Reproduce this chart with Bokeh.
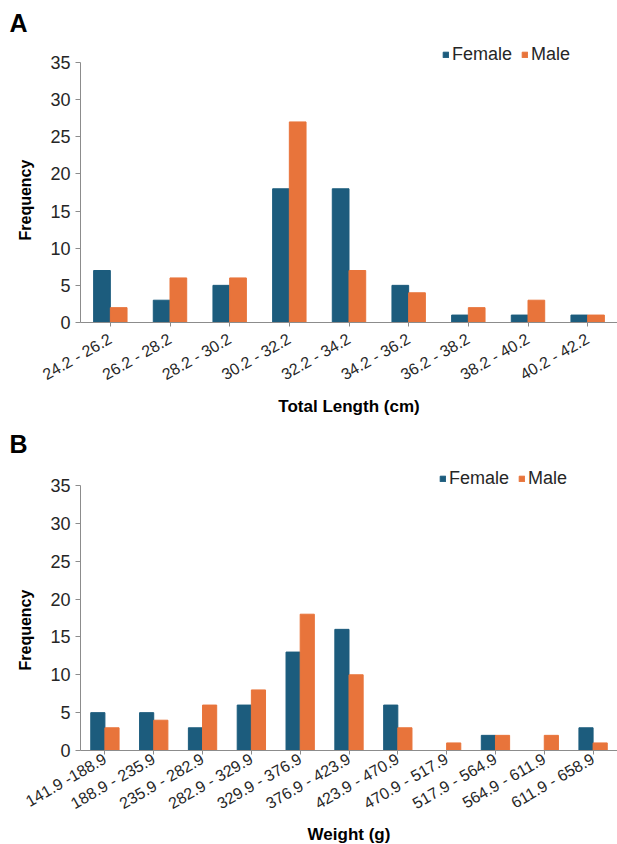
import math
from bokeh.plotting import figure
from bokeh.models import ColumnDataSource, FactorRange, Range1d, Legend, LegendItem, FixedTicker, Title
from bokeh.layouts import column
from bokeh.transform import dodge
from bokeh.embed import file_html
from bokeh.resources import INLINE

# Panel A data: total length classes
length_bins = ["24.2 - 26.2", "26.2 - 28.2", "28.2 - 30.2", "30.2 - 32.2", "32.2 - 34.2",
               "34.2 - 36.2", "36.2 - 38.2", "38.2 - 40.2", "40.2 - 42.2"]
length_female = [7, 3, 5, 18, 18, 5, 1, 1, 1]
length_male = [2, 6, 6, 27, 7, 4, 2, 3, 1]

# Panel B data: weight classes
weight_bins = ["141.9 -188.9", "188.9 - 235.9", "235.9 - 282.9", "282.9 - 329.9", "329.9 - 376.9",
               "376.9 - 423.9", "423.9 - 470.9", "470.9 - 517.9", "517.9 - 564.9", "564.9 - 611.9",
               "611.9 - 658.9"]
weight_female = [5, 5, 3, 6, 13, 16, 6, 0, 2, 0, 3]
weight_male = [3, 4, 6, 8, 18, 10, 3, 1, 2, 2, 1]

y_ticks = [0, 5, 10, 15, 20, 25, 30, 35]
y_max = 35

FEMALE = "#1C5C7D"
MALE = "#E8743B"
FONT = "Liberation Sans"
TXT = "#262626"
AXIS = "#8C8C8C"


def panel(letter, cats, fem, mal, xtitle, height, top, gap35, bottom, bw,
          tick_standoff, xtitle_offset, xtitle_standoff, legend_pos, letter_standoff, ytitle_offset):
    src = ColumnDataSource(dict(cat=cats, f=fem, m=mal))
    frame_h = height - top - bottom
    y_end = y_max * frame_h / (frame_h - gap35)
    p = figure(x_range=FactorRange(*cats, range_padding=0), y_range=Range1d(0, y_end),
               width=617, height=height, output_backend="svg", toolbar_location=None,
               min_border_left=79, min_border_right=0, min_border_top=top, min_border_bottom=bottom)
    p.outline_line_color = None
    p.grid.visible = False
    p.background_fill_color = "white"
    p.border_fill_color = "white"

    rf = p.vbar(x=dodge("cat", -bw / 2, range=p.x_range), top="f", width=bw, source=src,
                fill_color=FEMALE, line_color=FEMALE)
    rm = p.vbar(x=dodge("cat", bw / 2, range=p.x_range), top="m", width=bw, source=src,
                fill_color=MALE, line_color=MALE)

    p.yaxis.ticker = FixedTicker(ticks=y_ticks)
    p.yaxis.bounds = (0, y_max)
    for ax in (p.xaxis[0], p.yaxis[0]):
        ax.axis_line_color = AXIS
        ax.major_tick_line_color = AXIS
        ax.minor_tick_line_color = None
        ax.major_label_text_font = FONT
        ax.major_label_text_color = TXT
    p.yaxis.major_tick_in = 0
    p.yaxis.major_tick_out = 5
    p.yaxis.major_label_text_font_size = "18px"
    p.yaxis.major_label_standoff = 5
    p.xaxis.major_tick_in = 0
    p.xaxis.major_tick_out = 4
    p.xaxis.major_label_text_font_size = "16px"
    p.xaxis.major_label_orientation = math.pi / 6
    p.xaxis.major_label_standoff = tick_standoff

    p.add_layout(Title(text="Frequency", align="left", offset=ytitle_offset, standoff=28,
                       text_font=FONT, text_font_style="bold", text_font_size="16px",
                       text_color="black"), "left")
    p.add_layout(Title(text=xtitle, align="center", offset=xtitle_offset, standoff=xtitle_standoff,
                       text_font=FONT, text_font_style="bold", text_font_size="17px",
                       text_color="black"), "below")
    p.add_layout(Title(text=letter, align="left", offset=-71, standoff=letter_standoff,
                       text_font=FONT, text_font_style="bold", text_font_size="25px",
                       text_color="black"), "above")

    legend = Legend(items=[LegendItem(label="Female", renderers=[rf]),
                           LegendItem(label="Male", renderers=[rm])],
                    orientation="horizontal", location=legend_pos,
                    border_line_color=None, background_fill_alpha=0,
                    label_text_font=FONT, label_text_font_size="18px", label_text_color=TXT,
                    label_height=16, glyph_width=7, glyph_height=7, spacing=9, padding=0, margin=0,
                    label_standoff=3)
    p.add_layout(legend)
    return p


pa = panel("A", length_bins, length_female, length_male, "Total Length (cm)",
           420, 40, 22, 98, 0.28, 11, -44, 3, (362, 257), 8, 82)
pb = panel("B", weight_bins, weight_female, weight_male, "Weight (g)",
           424, 40, 25, 94, 0.29, 3, -33, 0, (359, 261), 5, 80)

layout = column(pa, pb, spacing=0)
open("out.html", "w").write(file_html(layout, INLINE))
